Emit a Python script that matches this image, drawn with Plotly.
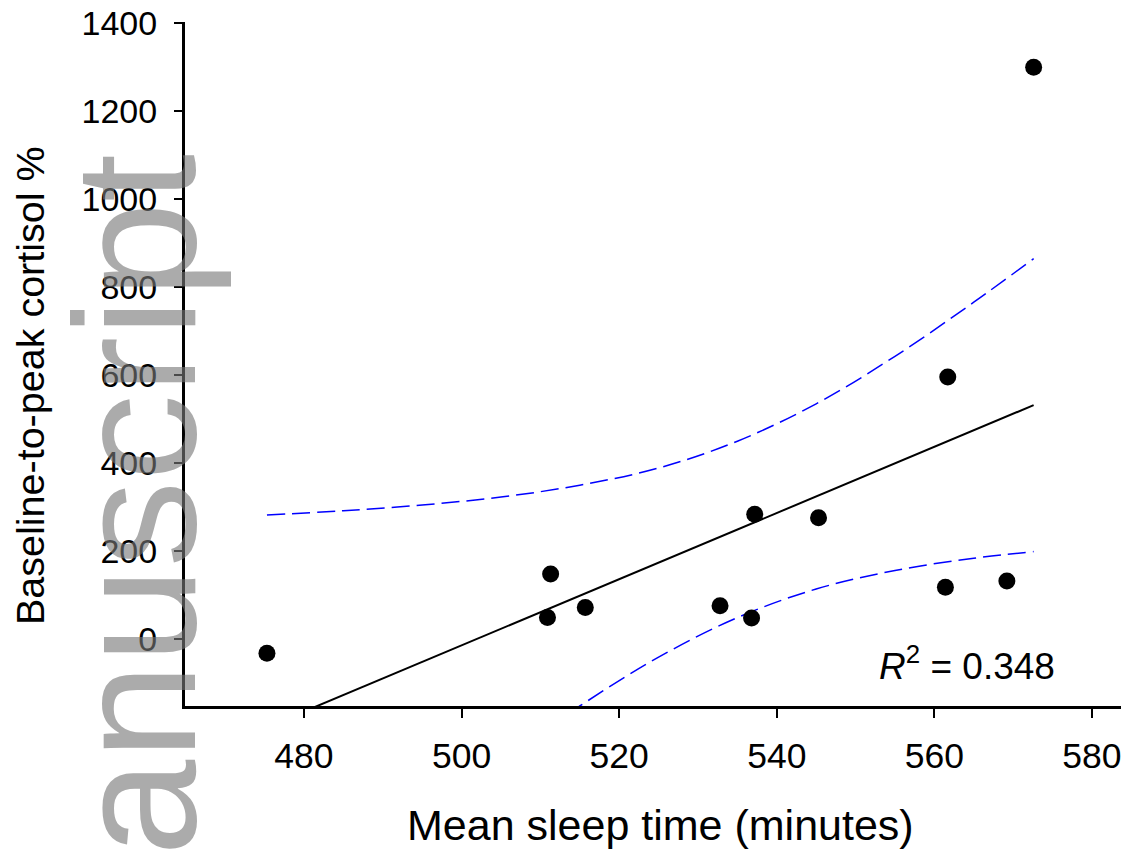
import plotly.graph_objects as go

# Scatter data
sleep_minutes = [475.3, 510.9, 511.3, 515.7, 532.8, 536.8, 537.2, 545.3, 561.7, 561.4, 569.2, 572.6]
cortisol_pct = [-32, 49, 148, 72, 76, 48, 284, 276, 596, 118, 132, 1300]

# Regression line end points
fit_x = [475.3, 572.6]
fit_y = [-200, 532]

# 95% confidence band
band_x = [475.3, 485, 495, 505, 515, 525, 535, 545, 555, 565, 572.6]
band_upper = [282, 292, 305, 323, 350, 389, 450, 535, 643, 766, 865]
band_lower = [-681, -546, -409, -276, -152, -41, 49, 114, 156, 184, 199]

x_ticks = [480, 500, 520, 540, 560, 580]
y_ticks = [0, 200, 400, 600, 800, 1000, 1200, 1400]

FONT = "Arial, Liberation Sans, sans-serif"

fig = go.Figure()
fig.add_trace(go.Scatter(x=band_x, y=band_upper, mode="lines", line=dict(color="#0000ff", width=1.5, dash="18px,7px", shape="spline"), hoverinfo="skip"))
fig.add_trace(go.Scatter(x=band_x, y=band_lower, mode="lines", line=dict(color="#0000ff", width=1.5, dash="18px,7px", shape="spline"), hoverinfo="skip"))
fig.add_trace(go.Scatter(x=fit_x, y=fit_y, mode="lines", line=dict(color="black", width=2)))
fig.add_trace(go.Scatter(x=sleep_minutes, y=cortisol_pct, mode="markers", marker=dict(color="black", size=17), cliponaxis=False))

# The page has an 8px body margin, so the figure is sized to fill the window from there
OFF = 8
W, H = 1129 - OFF, 851 - OFF
L, R, T, B = 185 - OFF, 0, 22 - OFF, 851 - 706
pw, ph = W - L - R, H - T - B

def px(x):
    # page pixel -> paper coordinate
    return (x - OFF - L) / pw

def py(y):
    return (H - B - (y - OFF)) / ph

fig.update_layout(
    width=W, height=H,
    margin=dict(l=L, r=R, t=T, b=B, autoexpand=False),
    paper_bgcolor="white", plot_bgcolor="white",
    showlegend=False,
    font=dict(family=FONT, color="black"),
    xaxis=dict(range=[464.9, 584.7], tickvals=x_ticks, ticks="outside", ticklen=9, tickwidth=2,
               tickcolor="black", showline=True, linewidth=3, linecolor="black", showgrid=False,
               zeroline=False, tickfont=dict(size=35.5, family=FONT), ticklabelstandoff=7,
               ticklabeloverflow="allow", automargin=False),
    yaxis=dict(range=[-152, 1403], tickvals=y_ticks, ticks="outside", ticklen=8, tickwidth=2,
               tickcolor="black", showline=True, linewidth=3, linecolor="black", showgrid=False,
               zeroline=False, tickfont=dict(size=34, family=FONT), ticklabelstandoff=10,
               ticklabeloverflow="allow", automargin=False),
    annotations=[
        dict(text="anuscript", xref="paper", yref="paper", x=px(135), y=py(505), textangle=-90,
             showarrow=False, font=dict(size=173, family=FONT, color="rgba(120,120,120,0.62)"),
             xanchor="center", yanchor="middle"),
        dict(text="Mean sleep time (minutes)", xref="paper", yref="paper", x=px(660), y=py(825),
             showarrow=False, font=dict(size=43, family=FONT), xanchor="center", yanchor="middle"),
        dict(text="Baseline-to-peak cortisol %", xref="paper", yref="paper", x=px(30), y=py(386),
             textangle=-90, showarrow=False, font=dict(size=39.5, family=FONT), xanchor="center", yanchor="middle"),
        dict(text="<i>R</i><sup>2</sup> = 0.348", xref="paper", yref="paper", x=px(877), y=py(663),
             showarrow=False, font=dict(size=37, family=FONT), xanchor="left", yanchor="middle"),
    ],
)

fig.write_html("out.html")
